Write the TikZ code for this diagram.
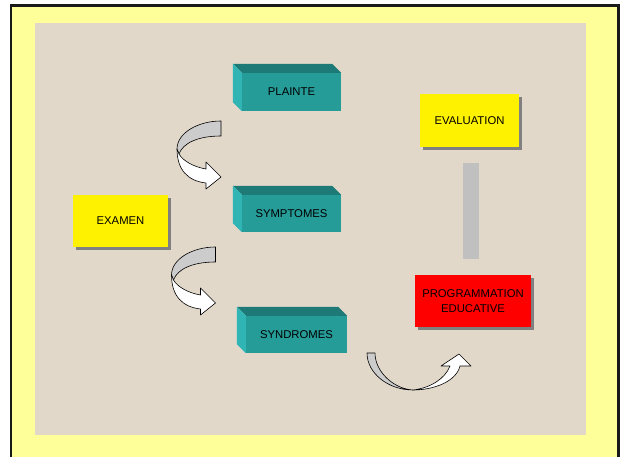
\documentclass[tikz,border=0pt]{standalone}
\usepackage{fontspec}
\setmainfont{Liberation Sans}
\usetikzlibrary{shadows}
\definecolor{frameyellow}{RGB}{255,255,153}
\definecolor{beige}{RGB}{225,216,202}
\definecolor{tealfront}{RGB}{38,156,152}
\definecolor{tealtop}{RGB}{30,122,118}
\definecolor{tealside}{RGB}{48,180,180}
\definecolor{arrowgray}{RGB}{204,204,204}
\definecolor{bargray}{RGB}{192,192,192}
\begin{document}
\begin{tikzpicture}[x=1pt,y=-1pt,
  lbl/.style={font=\fontsize{11.3}{15}\selectfont, align=center, text=black},
  shadowed/.style={drop shadow={shadow xshift=3pt,shadow yshift=-3pt,fill=black!50,opacity=1}},
  flatbox/.style={lbl, inner sep=0pt, shadowed},
  frontface/.style={lbl, fill=tealfront, inner sep=0pt},
  ribbonback/.style={fill=arrowgray, draw=black, line width=0.6pt, line join=round},
  ribbonfront/.style={fill=white, draw=black, line width=0.6pt, line join=round}
]
\useasboundingbox (0,0) rectangle (621,457);
\clip (0,0) rectangle (621,457);
% frame and background
\draw[fill=frameyellow, line width=2.5pt, draw=black!90] (11,5.5) rectangle (618.5,480);
\fill[beige] (35,23) rectangle (586,435);

% 3D teal boxes
\node[frontface, minimum width=99pt, minimum height=38pt] (plainte) at (291.5,92) {PLAINTE};
\node[frontface, minimum width=99pt, minimum height=37pt] (symptomes) at (291.5,213.5) {SYMPTOMES};
\node[frontface, minimum width=101pt, minimum height=37pt] (syndromes) at (296.5,334.5) {SYNDROMES};
\foreach \n in {plainte,symptomes,syndromes}{
  \fill[tealtop] (\n.north west) -- ++(-9,-9) -- ([shift={(-9,-9)}]\n.north east) -- (\n.north east) -- cycle;
  \fill[tealside] (\n.north west) -- ++(-9,-9) -- ([shift={(-9,-9)}]\n.south west) -- (\n.south west) -- cycle;
}

% flat boxes
\node[flatbox, fill=yellow, minimum width=95pt, minimum height=52pt] (examen) at (120.5,221) {EXAMEN};
\node[flatbox, fill=yellow, minimum width=99pt, minimum height=53pt] (evaluation) at (469.5,120.5) {EVALUATION};
\node[flatbox, fill=red, minimum width=116pt, minimum height=52pt] (programmation) at (473,301) {PROGRAMMATION\\EDUCATIVE};

% grey bar between evaluation and programmation
\node[fill=bargray, inner sep=0pt, minimum width=16pt, minimum height=96pt] (bar) at (471,211) {};

% curved ribbon arrows (plainte -> symptomes, symptomes -> syndromes)
\foreach \dx/\dy in {0/0,-5.5/126}{
  \begin{scope}[shift={(\dx,\dy)}]
    \draw[ribbonback] (221,121) .. controls (198,121) and (177,133) .. (177,149)
      -- (179,154) .. controls (183,143) and (198,136) .. (221,136) -- cycle;
    \draw[ribbonfront] (177,149) .. controls (177,170) and (188,181) .. (206,183)
      -- (206,189) -- (221,177) -- (206,162) -- (206,169)
      .. controls (194,167) and (183,161) .. (179,154) -- cycle;
  \end{scope}
}

% curved ribbon arrow syndromes -> programmation
\draw[ribbonback] (367,353) .. controls (367,373) and (388,390) .. (413,390)
  .. controls (394,389) and (375,372) .. (375,353) -- cycle;
\draw[ribbonfront] (413,390) .. controls (433,390) and (456,382) .. (460,366)
  -- (471,366) -- (459,354) -- (441,366) -- (450,366)
  .. controls (445,379) and (430,388) .. (413,390) -- cycle;
\end{tikzpicture}
\end{document}
